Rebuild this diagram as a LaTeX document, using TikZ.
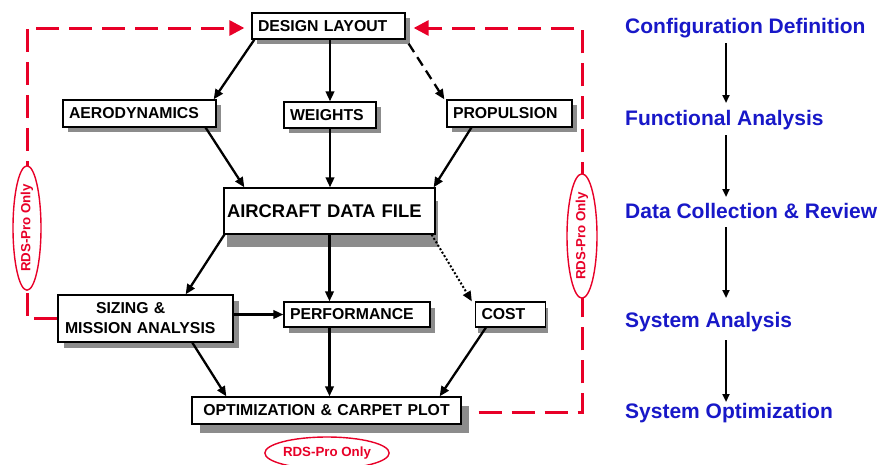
\documentclass[tikz,border=0pt]{standalone}
\usepackage{fontspec}
\setmainfont{Liberation Sans}
\usetikzlibrary{arrows.meta,shapes.geometric,shadows,calc}
\definecolor{rdsred}{RGB}{232,0,40}
\definecolor{stageblue}{RGB}{24,24,200}
\definecolor{shadowgray}{RGB}{140,140,140}
\tikzset{
  box/.style={draw=black, fill=white, line width=1.3pt, inner xsep=6pt, inner ysep=0pt,
    align=left, font=\bfseries\fontsize{15.8}{20}\selectfont},
  shd/.style 2 args={drop shadow={shadow xshift=#1pt, shadow yshift=-#2pt, fill=shadowgray, opacity=1}},
  arr/.style={line width=2.3pt, -{Triangle[length=10pt,width=8.5pt]}},
  darr/.style={arr, dash pattern=on 10pt off 6pt},
  dotarr/.style={line width=2pt, dash pattern=on 2pt off 2pt, -{Triangle[length=10pt,width=8.5pt]}},
  rloop/.style={draw=rdsred, line width=3pt, dash pattern=on 23pt off 10pt, -{Triangle[length=15pt,width=15pt]}},
  rdsoval/.style={ellipse, draw=rdsred, line width=1.4pt, fill=white, text=rdsred, inner sep=0pt,
    font=\bfseries\fontsize{13.3}{15}\selectfont},
  stage/.style={text=stageblue, font=\bfseries\fontsize{21}{25}\selectfont, anchor=base west, inner sep=0pt},
  sarr/.style={line width=2pt, -{Triangle[length=8pt,width=7pt]}}
}
\begin{document}
\begin{tikzpicture}[x=1pt,y=-1pt]
\useasboundingbox[fill=white] (0,0) rectangle (883,464);

% boxes
\node[box, shd={5}{5}, text width=141pt, minimum height=26pt] (dl) at (328.5,26) {DESIGN LAYOUT};
\node[box, shd={5}{5}, text width=141pt, minimum height=27pt] (aero) at (139.5,113.5) {AERODYNAMICS};
\node[box, shd={5}{5}, text width=80pt, minimum height=26pt] (wt) at (330,115) {WEIGHTS};
\node[box, shd={5}{5}, text width=113pt, minimum height=27pt] (prop) at (509.5,113.5) {PROPULSION};
\node[box, shd={3}{13}, inner xsep=3pt, text width=205pt, minimum height=46pt,
  font=\bfseries\fontsize{18.4}{22}\selectfont] (adf) at (329.5,211) {AIRCRAFT DATA FILE};
\node[box, shd={6}{6}, inner xsep=7pt, text width=161pt, minimum height=47pt] (siz) at (145.5,318.5)
  {\hspace*{31pt}SIZING \&\\MISSION ANALYSIS};
\node[box, shd={5}{6}, text width=134pt, minimum height=25pt] (perf) at (357,314.5) {PERFORMANCE};
\node[box, shd={2}{6}, text width=58pt, minimum height=25pt] (cost) at (510.5,314.5) {COST};
\node[box, shd={8}{9}, align=center, text width=257pt, minimum height=27pt] (opt) at (326.5,410.5)
  {OPTIMIZATION \& CARPET PLOT};

% flow arrows
\draw[arr] ([xshift=3pt]dl.south west) -- ([xshift=-3pt]aero.north east);
\draw[arr] (dl.south -| wt.north) -- (wt.north);
\draw[darr] ($(dl.south east)+(3,4)$) -- ([xshift=-2pt]prop.north west);
\draw[arr] ([xshift=-11pt]aero.south east) -- ([xshift=21pt]adf.north west);
\draw[arr] (wt.south) -- (wt.south |- adf.north);
\draw[arr] ([xshift=25pt]prop.south west) -- ([xshift=-2pt]adf.north east);
\draw[arr] ([xshift=1pt]adf.south west) -- ([xshift=-48pt]siz.north east);
\draw[arr] (adf.south) -- (adf.south |- perf.north);
\draw[dotarr] ([xshift=-4pt]adf.south east) -- ([xshift=-3pt]cost.north west);
\draw[arr] (siz.east |- perf.west) -- (perf.west);
\draw[arr] ([xshift=135pt]siz.south west) -- ([xshift=35pt]opt.north west);
\draw[arr] (perf.south -| adf.south) -- (opt.north -| adf.south);
\draw[arr] ([xshift=11pt]cost.south west) -- ([xshift=-22pt]opt.north east);

% red loops
\coordinate (lcb) at (27,318.5);
\coordinate (lct) at (27,28);
\coordinate (rcb) at (582,412);
\coordinate (rct) at (582,28);
\draw[rloop] (siz.west) -- (lcb) -- (lct) -- ($(dl.west)+(-7,2)$);
\draw[rloop] ($(opt.east)+(17,1.5)$) -- (rcb) -- (rct) -- ($(dl.east)+(8,2)$);
\node[rdsoval, rotate=90, minimum width=122pt, minimum height=28pt] (ovl) at (27,228) {RDS-Pro Only};
\node[rdsoval, rotate=90, minimum width=102pt, minimum height=30pt] (ovr) at (582,236) {RDS-Pro Only};
\node[rdsoval, minimum width=118pt, minimum height=32pt] (ovb) at (327,453) {RDS-Pro Only};

% right column
\node[stage] (c1) at (625,33) {Configuration Definition};
\node[stage] (c2) at (625,125) {Functional Analysis};
\node[stage] (c3) at (625,218) {Data Collection \& Review};
\node[stage] (c4) at (625,327) {System Analysis};
\node[stage] (c5) at (625,418) {System Optimization};
\draw[sarr] ($(c1.base west)+(101,10)$) -- ($(c2.base west)+(101,-22)$);
\draw[sarr] ($(c2.base west)+(101,10)$) -- ($(c3.base west)+(101,-21)$);
\draw[sarr] ($(c3.base west)+(101,9)$) -- ($(c4.base west)+(101,-29)$);
\draw[sarr] ($(c4.base west)+(101,13)$) -- ($(c5.base west)+(101,-16)$);
\end{tikzpicture}
\end{document}
